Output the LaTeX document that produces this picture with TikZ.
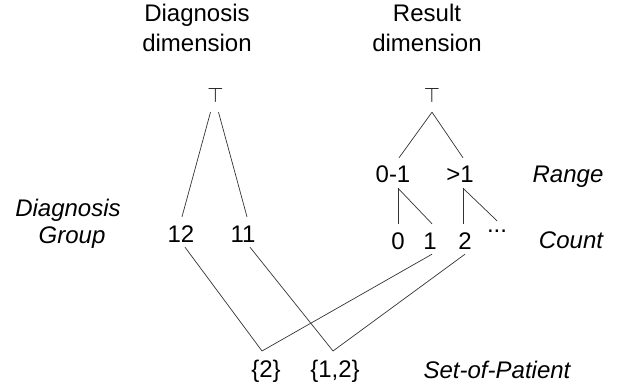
\documentclass[tikz,border=0pt]{standalone}
\usepackage{fontspec}
\setmainfont{Liberation Sans}
\begin{document}
\begin{tikzpicture}[x=1pt,y=-1pt,
  txt/.style={font=\fontsize{24}{30}\selectfont, inner sep=0pt, anchor=base},
  lvl/.style={txt, font=\fontsize{24}{30}\selectfont\itshape},
  num/.style={txt, text height=25pt, text depth=5pt},
  topel/.style={font=\fontsize{22}{29}\selectfont, inner sep=0pt, anchor=base,
                text depth=9pt},
  link/.style={line width=0.7pt, black!80}]
\useasboundingbox (0,0) rectangle (620,387);

% dimension headings
\node[txt] (dd1) at (197,22) {Diagnosis};
\node[txt] (dd2) at (197,52) {dimension};
\node[txt] (rd1) at (427,22) {Result};
\node[txt] (rd2) at (427,52) {dimension};

% top elements
\node[topel] (topL) at (215.5,103) {$\top$};
\node[topel] (topR) at (432,103) {$\top$};

% diagnosis dimension members
\node[num] (n12) at (181,242) {12};
\node[num] (n11) at (243,242) {11};
\node[lvl] (dg1) at (68,216) {Diagnosis};
\node[lvl] (dg2) at (72,243) {Group};

% result dimension: range level
\node[num] (r01) at (393,183) {0-1};
\node[num] (rg1) at (460,183) {>1};
\node[lvl] (range) at (568,183) {Range};

% result dimension: count level
\node[num] (c0) at (398,249) {0};
\node[num] (c1) at (430,249) {1};
\node[num] (c2) at (465,249) {2};
\node[txt, text height=12pt] (cd) at (497,233) {...};
\node[lvl] (count) at (571,248) {Count};

% set-of-patient level
\node[txt] (s2) at (266,377) {\{2\}};
\node[txt] (s12) at (335,377) {\{1,2\}};
\node[lvl] (sop) at (497,378) {Set-of-Patient};
\coordinate (v1) at (262,351);
\coordinate (v2) at (333,351);

% diagnosis tree
\draw[link] ([xshift=-5pt]topL.south) -- ([xshift=1pt]n12.north);
\draw[link] ([xshift=3pt]topL.south) -- ([xshift=4pt]n11.north);

% result tree
\draw[link] (topR.south) -- ([xshift=6pt]r01.north);
\draw[link] (topR.south) -- ([xshift=3pt]rg1.north);
\draw[link] (r01.south -| c0.north) -- (c0.north);
\draw[link] ([xshift=5pt]r01.south) -- ([xshift=2pt]c1.north);
\draw[link] ([xshift=3pt]rg1.south) -- ([xshift=-2pt]c2.north);
\draw[link] ([xshift=3pt]rg1.south) -- (cd.north);

% roll-up to sets of patients
\draw[link] ([xshift=4pt]n12.south) -- (v1) -- ([xshift=2pt]c1.south);
\draw[link] ([xshift=7pt]n11.south) -- (v2) -- (c2.south);
\end{tikzpicture}
\end{document}
